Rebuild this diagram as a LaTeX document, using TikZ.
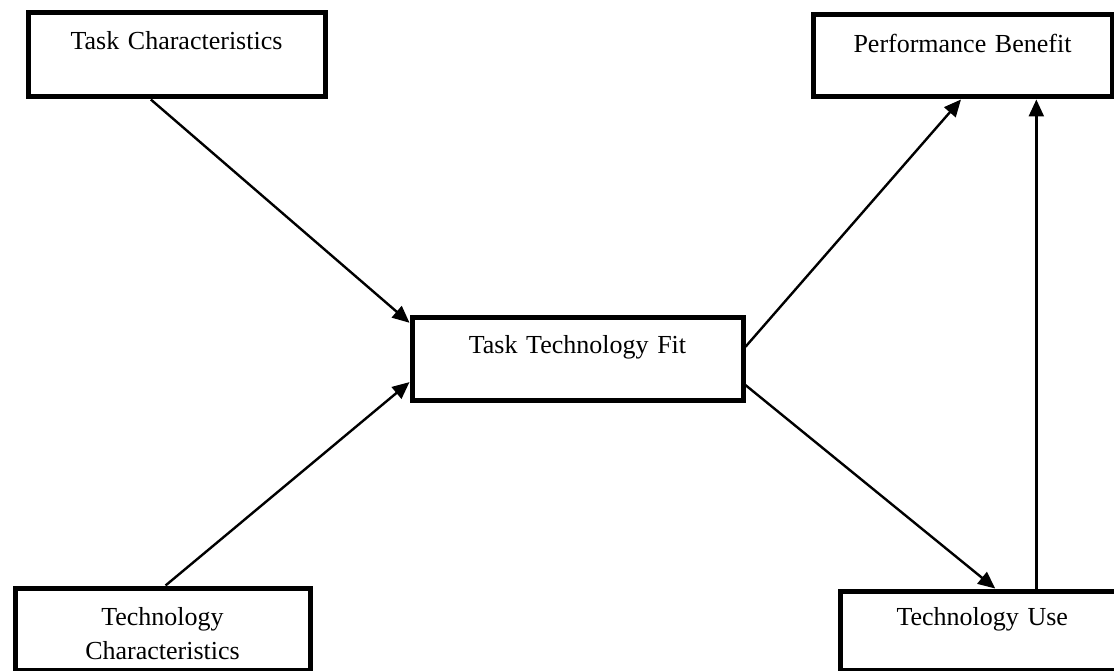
\documentclass[tikz,border=0pt]{standalone}
\usepackage{fontspec}
\setmainfont{Liberation Serif}
\usetikzlibrary{arrows.meta}

\begin{document}
\begin{tikzpicture}[x=1pt,y=-1pt,
    box/.style={draw, line width=5pt, inner sep=0pt, align=center, anchor=north west,
        font=\fontsize{26}{34}\selectfont},
    link/.style={line width=2.4pt, -{Triangle[length=17pt,width=15pt]}}]
    \useasboundingbox (0,0) rectangle (1114,671);

    \node[box, text width=297pt, text height=36.5pt, text depth=47.5pt] (taskc) at (25.5,10.5) {Task Characteristics};
    \node[box, text width=299pt, text height=37.5pt, text depth=44.5pt] (perf) at (810.5,12.5) {Performance Benefit};
    \node[box, text width=331pt, text height=36.5pt, text depth=46.5pt] (ttf) at (409.5,314.5) {Task Technology Fit};
    \node[box, text width=295pt, text height=37.5pt, text depth=45pt] (techc) at (12.5,585.5) {Technology\\Characteristics};
    \node[box, text width=284.5pt, text height=34.5pt, text depth=45pt] (techu) at (837.5,588.5) {Technology Use};

    % arrows into the fit box
    \draw[link] (taskc.-120) -- (ttf.168.7);
    \draw[link] (techc.86) -- (ttf.-172.6);

    % arrows out of the fit box
    \draw[link] (ttf.4.5) -- (perf.-92.6);
    \draw[link] (ttf.-9.9) -- (techu.73.6);
    \draw[link] (techu.38.6) -- (techu.38.6 |- perf.south);

\end{tikzpicture}
\end{document}
